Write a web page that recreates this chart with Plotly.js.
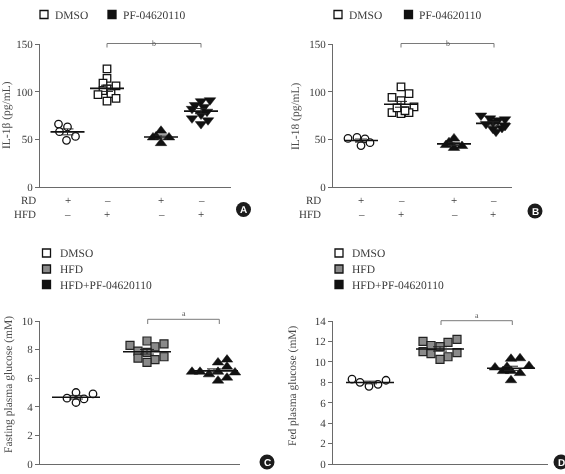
<!DOCTYPE html>
<html><head><meta charset="utf-8">
<script src="https://cdn.plot.ly/plotly-3.0.1.min.js"></script>
<style>html,body{margin:0;padding:0;background:#fff;overflow:hidden}
#chart{will-change:transform}
#chart text{text-rendering:geometricPrecision}</style>
</head><body><div id="chart" style="width:565px;height:474px"></div>
<script>
// ---------------- DATA ----------------
const abGroups = ['RD DMSO', 'HFD DMSO', 'RD PF-04620110', 'HFD PF-04620110'];
const rdSigns  = ['+', '–', '+', '–'];
const hfdSigns = ['–', '+', '–', '+'];
const cdGroups = ['DMSO', 'HFD', 'HFD+PF-04620110'];

// Panel A: IL-1β (pg/mL)
const il1b_RD_DMSO  = [66, 63, 58, 49, 53];
const il1b_HFD_DMSO = [124, 114, 109, 106, 103, 101, 98, 97, 93, 90];
const il1b_RD_PF    = [59, 53, 52, 52, 46];
const il1b_HFD_PF   = [91, 90, 86, 84, 82, 79, 76, 72, 70, 66];

// Panel B: IL-18 (pg/mL)
const il18_RD_DMSO  = [51, 52, 50.5, 43.5, 46.5];
const il18_HFD_DMSO = [105, 98, 94, 90.5, 84, 78, 77, 78, 80, 83];
const il18_RD_PF    = [51, 47, 44, 43, 41];
const il18_HFD_PF   = [75, 72, 71, 70, 68, 66, 64, 62, 61, 58];

// Panel C: Fasting plasma glucose (mM)
const fpg_DMSO = [5.0, 4.9, 4.6, 4.55, 4.3];
const fpg_HFD  = [8.6, 8.4, 8.3, 8.2, 7.9, 7.8, 7.5, 7.4, 7.3, 7.1];
const fpg_PF   = [7.3, 7.1, 6.8, 6.45, 6.45, 6.45, 6.4, 6.27, 6.04, 5.83];

// Panel D: Fed plasma glucose (mM)
const fed_DMSO = [8.3, 8.0, 7.6, 7.8, 8.2];
const fed_HFD  = [12.2, 12.0, 11.9, 11.6, 11.5, 11.0, 10.9, 10.8, 10.5, 10.25];
const fed_PF   = [10.3, 10.35, 9.6, 9.45, 9.5, 9.1, 9.1, 8.9, 8.2, 9.2];

// ---------------- LAYOUT / STYLE ----------------
const W = 565, H = 474;
const px = x => x / W;
const py = y => 1 - y / H;
const SERIF = 'Liberation Serif, Times New Roman, serif';
const TXT = '#3a3a3a';

// horizontal scatter (jitter) offsets, in axis px units
const jit = {
  a1: [-9, 0, -8, -1, 8],
  a2: [0, 0, -4, 9, 0, -4, 4, -9, 9, 0],
  a3: [0, -5, -8, 8, 0],
  a4: [9, 0, -6, 3, -9, 6, 0, -9, 7, 0],
  b1: [-13, -4, 4, 0, 9],
  b2: [0, 8, -9, 0, 13, -9, 0, 8, 4, -4],
  b3: [0, -5, -8, 8, 0],
  b4: [-12, -3, 12, 5, 0, -7, 12, 9, 0, 3],
  c1: [0, 17, -9, 8, 0],
  c2: [0, 17, -17, 8, -9, 0, 17, -9, 8, 0],
  c3: [13, 4, 13, -22, -14, 4, 21, -5, 13, 4],
  d1: [-18, -10, -1, 8, 16],
  d2: [17, -17, 8, -9, 0, -17, 17, -9, 8, 0],
  d3: [0, 9, 18, -16, -4, -8, 0, 9, 0, -4]
};

const mOpenCircle = {symbol: 'circle', size: 7.5, color: '#fff', line: {color: '#111', width: 1.3}};
const mOpenSquare = {symbol: 'square', size: 7.5, color: '#fff', line: {color: '#111', width: 1.3}};
const mGraySquare = {symbol: 'square', size: 8, color: '#8a8a8a', line: {color: '#222', width: 1.2}};
const mTriUp      = {symbol: 'triangle-up', size: 10, color: '#111', line: {color: '#111', width: 0.5}};
const mTriDown    = {symbol: 'triangle-down', size: 10, color: '#111', line: {color: '#111', width: 0.5}};

const panels = [
  {id: '', left: 40, right: 231, bottom: 187, top: 44, range: [0, 150], dtick: 50,
   title: 'IL-1β (pg/mL)', titleX: 6, titleY: 115,
   centers: [27.5, 67, 121, 161], halfW: 17, cap: 6,
   groups: [[il1b_RD_DMSO, jit.a1, mOpenCircle, abGroups[0]], [il1b_HFD_DMSO, jit.a2, mOpenSquare, abGroups[1]],
            [il1b_RD_PF, jit.a3, mTriUp, abGroups[2]], [il1b_HFD_PF, jit.a4, mTriDown, abGroups[3]]],
   bracket: {x0: 67, x1: 161, top: 43.5, leg: 47.5, ly: 37, label: 'b'},
   badge: {x: 243.5, y: 209.5, t: 'A'}, signs: true, signLabelX: 38,
   legend: {type: 'row', items: [['DMSO', '#fff', 44, 53], ['PF-04620110', '#111', 112, 121]], y: 14.5}},
  {id: '2', left: 333, right: 512, bottom: 187, top: 44, range: [0, 150], dtick: 50,
   title: 'IL-18 (pg/mL)', titleX: 295, titleY: 116,
   centers: [28, 68, 121, 160], halfW: 17, cap: 6,
   groups: [[il18_RD_DMSO, jit.b1, mOpenCircle, abGroups[0]], [il18_HFD_DMSO, jit.b2, mOpenSquare, abGroups[1]],
            [il18_RD_PF, jit.b3, mTriUp, abGroups[2]], [il18_HFD_PF, jit.b4, mTriDown, abGroups[3]]],
   bracket: {x0: 68, x1: 161, top: 43.5, leg: 47.5, ly: 37, label: 'b'},
   badge: {x: 535, y: 211, t: 'B'}, signs: true, signLabelX: 323,
   legend: {type: 'row', items: [['DMSO', '#fff', 338, 347], ['PF-04620110', '#111', 408.5, 417]], y: 14.5}},
  {id: '3', left: 40, right: 240, bottom: 464, top: 321, range: [0, 10], dtick: 2,
   title: 'Fasting plasma glucose (mM)', titleX: 8, titleY: 385,
   centers: [36, 107, 174], halfW: 24, cap: 7,
   groups: [[fpg_DMSO, jit.c1, mOpenCircle, cdGroups[0]], [fpg_HFD, jit.c2, mGraySquare, cdGroups[1]],
            [fpg_PF, jit.c3, mTriUp, cdGroups[2]]],
   bracket: {x0: 107.7, x1: 179.3, top: 319.3, leg: 324, ly: 313.5, label: 'a'},
   badge: {x: 267, y: 462, t: 'C'}, signs: false,
   legend: {type: 'col', sx: 46.5, tx: 58, items: [['DMSO', '#fff', 253], ['HFD', '#8a8a8a', 269], ['HFD+PF-04620110', '#111', 284.5]]}},
  {id: '4', left: 333, right: 548, bottom: 464, top: 321, range: [0, 14], dtick: 2,
   title: 'Fed plasma glucose (mM)', titleX: 292, titleY: 386,
   centers: [37, 107, 178], halfW: 24, cap: 7,
   groups: [[fed_DMSO, jit.d1, mOpenCircle, cdGroups[0]], [fed_HFD, jit.d2, mGraySquare, cdGroups[1]],
            [fed_PF, jit.d3, mTriUp, cdGroups[2]]],
   bracket: {x0: 108, x1: 179.3, top: 320.7, leg: 325, ly: 315, label: 'a'},
   badge: {x: 561, y: 462, t: 'D'}, signs: false,
   legend: {type: 'col', sx: 339, tx: 350, items: [['DMSO', '#fff', 253], ['HFD', '#8a8a8a', 269], ['HFD+PF-04620110', '#111', 284.5]]}}
];

const mean = a => a.reduce((s, v) => s + v, 0) / a.length;
const sem = a => { const m = mean(a); return Math.sqrt(a.reduce((s, v) => s + (v - m) * (v - m), 0) / (a.length - 1)) / Math.sqrt(a.length); };

const traces = [], shapes = [], annotations = [];
const layout = {
  width: W, height: H, margin: {l: 0, r: 0, t: 0, b: 0},
  paper_bgcolor: '#fff', plot_bgcolor: 'rgba(0,0,0,0)', showlegend: false,
  font: {family: SERIF, color: TXT, size: 11}
};

panels.forEach(p => {
  const xa = 'x' + p.id, ya = 'y' + p.id;
  layout['xaxis' + p.id] = {
    domain: [px(p.left), px(p.right)], range: [0, p.right - p.left], anchor: ya,
    showline: true, linecolor: '#6a6a6a', linewidth: 1, ticks: '', showticklabels: false,
    showgrid: false, zeroline: false, fixedrange: true
  };
  layout['yaxis' + p.id] = {
    domain: [py(p.bottom), py(p.top)], range: p.range, anchor: xa, dtick: p.dtick, tick0: 0,
    showline: true, linecolor: '#6a6a6a', linewidth: 1, ticks: 'outside', ticklen: 4, tickcolor: '#6a6a6a',
    tickfont: {family: SERIF, size: 11, color: TXT}, showgrid: false, zeroline: false, fixedrange: true
  };
  p.groups.forEach((g, i) => {
    const [vals, off, mk, name] = g;
    const c = p.centers[i];
    traces.push({type: 'scatter', mode: 'markers', name: name, xaxis: xa, yaxis: ya,
      x: vals.map((v, k) => c + off[k]), y: vals, marker: mk, cliponaxis: false, hoverinfo: 'y'});
  });
  p.groups.forEach((g, i) => {
    const vals = g[0], c = p.centers[i], m = mean(vals);
    traces.push({type: 'scatter', mode: 'lines', xaxis: xa, yaxis: ya, hoverinfo: 'skip',
      x: [c - p.halfW, c + p.halfW], y: [m, m], line: {color: '#111', width: 1.6}});
    traces.push({type: 'scatter', mode: 'markers', xaxis: xa, yaxis: ya, hoverinfo: 'skip',
      x: [c], y: [m], marker: {size: 1, color: 'rgba(0,0,0,0)'},
      error_y: {type: 'data', array: [sem(vals)], visible: true, color: '#222', thickness: 1, width: p.cap}});
  });
  annotations.push({xref: 'paper', yref: 'paper', x: px(p.titleX), y: py(p.titleY), text: p.title,
    textangle: -90, showarrow: false, xanchor: 'center', yanchor: 'middle',
    font: {family: SERIF, size: 11.5, color: '#4a4a4a'}});
  const b = p.bracket;
  shapes.push({type: 'path', xref: xa, yref: 'paper', line: {color: '#7a7a7a', width: 1},
    path: `M ${b.x0} ${py(b.leg)} L ${b.x0} ${py(b.top)} L ${b.x1} ${py(b.top)} L ${b.x1} ${py(b.leg)}`});
  annotations.push({xref: xa, yref: 'paper', x: (b.x0 + b.x1) / 2, y: py(b.ly), text: b.label,
    showarrow: false, font: {family: SERIF, size: 8, color: '#555'}});
  shapes.push({type: 'circle', xref: 'paper', yref: 'paper', fillcolor: '#1c1c1c', line: {width: 0},
    x0: px(p.badge.x - 7.5), x1: px(p.badge.x + 7.5), y0: py(p.badge.y + 7.5), y1: py(p.badge.y - 7.5)});
  annotations.push({xref: 'paper', yref: 'paper', x: px(p.badge.x), y: py(p.badge.y), text: '<b>' + p.badge.t + '</b>',
    showarrow: false, xanchor: 'center', yanchor: 'middle',
    font: {family: 'Liberation Sans, Arial, sans-serif', size: 10, color: '#fff'}});
  if (p.signs) {
    [['RD', rdSigns, 200], ['HFD', hfdSigns, 214]].forEach(r => {
      annotations.push({xref: 'paper', yref: 'paper', x: px(p.signLabelX), y: py(r[2]), text: r[0],
        showarrow: false, xanchor: 'right', yanchor: 'middle', font: {family: SERIF, size: 11, color: TXT}});
      r[1].forEach((s, i) => annotations.push({xref: xa, yref: 'paper', x: p.centers[i], y: py(r[2]), text: s,
        showarrow: false, xanchor: 'center', yanchor: 'middle', font: {family: SERIF, size: 11, color: TXT}}));
    });
  }
  const L = p.legend, s = 4;
  if (L.type === 'row') {
    L.items.forEach(it => {
      shapes.push({type: 'rect', xref: 'paper', yref: 'paper', fillcolor: it[1], line: {color: '#111', width: 1.3},
        x0: px(it[2] - s), x1: px(it[2] + s), y0: py(L.y + s), y1: py(L.y - s)});
      annotations.push({xref: 'paper', yref: 'paper', x: px(it[3]), y: py(L.y), text: it[0], showarrow: false,
        xanchor: 'left', yanchor: 'middle', font: {family: SERIF, size: 11.5, color: TXT}});
    });
  } else {
    L.items.forEach(it => {
      shapes.push({type: 'rect', xref: 'paper', yref: 'paper', fillcolor: it[1], line: {color: '#111', width: 1.3},
        x0: px(L.sx - s), x1: px(L.sx + s), y0: py(it[2] + s), y1: py(it[2] - s)});
      annotations.push({xref: 'paper', yref: 'paper', x: px(L.tx), y: py(it[2]), text: it[0], showarrow: false,
        xanchor: 'left', yanchor: 'middle', font: {family: SERIF, size: 11.5, color: TXT}});
    });
  }
});

layout.shapes = shapes;
layout.annotations = annotations;
Plotly.newPlot('chart', traces, layout, {staticPlot: true, displayModeBar: false});
</script>
</body></html>
